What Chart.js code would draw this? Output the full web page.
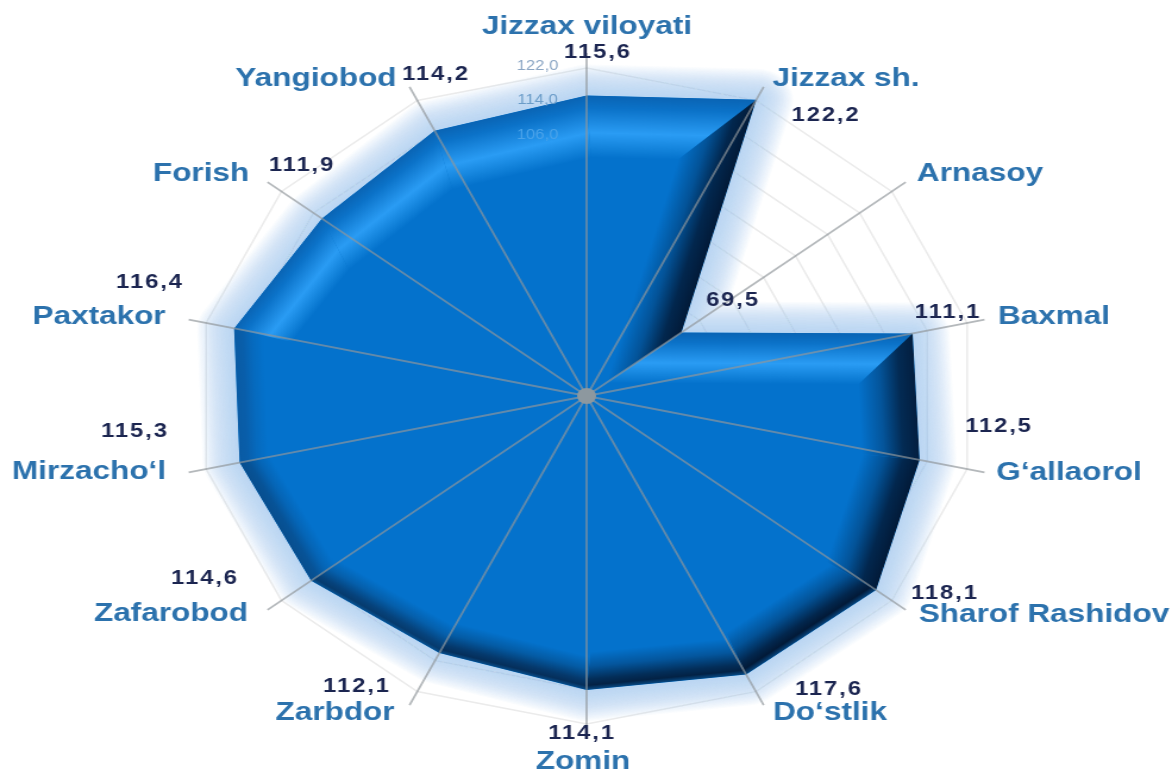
<!DOCTYPE html>
<html><head><meta charset="utf-8">
<style>
html,body{margin:0;padding:0;background:#fff;overflow:hidden}
#c{display:block;width:1172px !important;height:774px !important}
</style>
<script src="https://cdn.jsdelivr.net/npm/chart.js@4"></script>
</head><body>
<canvas id="c" width="985" height="774"></canvas>
<script>
const categories = ["Jizzax viloyati","Jizzax sh.","Arnasoy","Baxmal","G\u2018allaorol","Sharof Rashidov","Do\u2018stlik","Zomin","Zarbdor","Zafarobod","Mirzacho\u2018l","Paxtakor","Forish","Yangiobod"];
const values = [115.6,122.2,69.5,111.1,112.5,118.1,117.6,114.1,112.1,114.6,115.3,116.4,111.9,114.2];
const tickValues = [50,58,66,74,82,90,98,106,114,122];
const axisMin = 45.8, axisMax = 122;

// text placement (page px, label centres)
const SX = 1172/985;
const catPos = [[587,27],[846,79],[980,174],[1054,317],[1069,473],[1044,615],[830,713],[583,762],[335,713],[171,614],[89,472],[99,317],[201,174],[316,79]];
const valPos = [[598,52],[826,115],[733,300],[948,312],[999,426],[945,593],[829,689],[582,733],[357,686],[205,578],[135,431],[150,282],[302,165],[436,74]];
const SPOKE_R = 343;
const fmt = v => v.toFixed(1).replace('.',',');
const mix=(a,b,t)=>a.map((x,i)=>Math.round(x+(b[i]-x)*t));
const rgb=a=>`rgb(${a[0]},${a[1]},${a[2]})`;
const BASE=[4,114,204];

function polyPath(ctx,pts){ctx.beginPath();pts.forEach((p,i)=>i?ctx.lineTo(p.x,p.y):ctx.moveTo(p.x,p.y));ctx.closePath();}

const look = {
  id:'look',
  beforeDatasetsDraw(chart){
    const ctx=chart.ctx, pts=chart.getDatasetMeta(0).data;
    ctx.save();
    ctx.lineJoin='round';
    ctx.strokeStyle='rgba(168,196,238,0.055)';
    for(let w=62;w>=4;w-=2.5){ctx.lineWidth=w;polyPath(ctx,pts);ctx.stroke();}
    ctx.restore();
  },
  afterDatasetsDraw(chart){
    const ctx=chart.ctx, s=chart.scales.r, pts=chart.getDatasetMeta(0).data, n=pts.length;
    const cx=s.xCenter, cy=s.yCenter;
    // edge geometry
    const edges=pts.map((a,i)=>{
      const b=pts[(i+1)%n];
      const L=Math.hypot(b.x-a.x,b.y-a.y), ex=(b.x-a.x)/L, ey=(b.y-a.y)/L;
      const nx=ey, ny=-ex;
      const lit=ny<-0.3;
      let w=lit?30+32*(-ny):48;
      let depth=lit?w:36+12*nx;
      const dc=Math.abs((a.x-cx)*nx+(a.y-cy)*ny);
      w=Math.min(w,dc*0.8); depth=Math.min(depth,w);
      return {nx,ny,lit,w,depth};
    });
    const inner=pts.map((p,i)=>{
      const e0=edges[(i+n-1)%n], e1=edges[i];
      const det=e0.nx*e1.ny-e0.ny*e1.nx;
      const qx=(-e0.w*e1.ny+e1.w*e0.ny)/det, qy=(-e1.w*e0.nx+e0.w*e1.nx)/det;
      return {x:p.x+qx,y:p.y+qy};
    });
    ctx.save();
    polyPath(ctx,pts);ctx.clip();
    edges.forEach((e,i)=>{
      const a=pts[i], b=pts[(i+1)%n], qa=inner[i], qb=inner[(i+1)%n];
      const g=ctx.createLinearGradient(a.x,a.y,a.x-e.nx*e.depth,a.y-e.ny*e.depth);
      if(e.lit){
        g.addColorStop(0,'#0a64b4');
        g.addColorStop(0.2,'#0b72c8');
        g.addColorStop(0.6,'#2a9cf4');
        g.addColorStop(0.85,'#1282da');
        g.addColorStop(1,rgb(BASE));
      } else {
        const t=Math.max(0,Math.min(1,(e.nx+1)/2*0.95+e.ny*0.35));
        const edge=mix([10,92,165],[2,26,56],t);
        if(e.ny>0.5){
          g.addColorStop(0,rgb(mix(edge,[10,100,175],0.6)));
          g.addColorStop(0.12,rgb(edge));
        } else g.addColorStop(0,rgb(edge));
        g.addColorStop(0.28,rgb(mix(edge,BASE,0.15)));
        g.addColorStop(0.62,rgb(mix(edge,BASE,0.65)));
        g.addColorStop(1,rgb(BASE));
      }
      ctx.fillStyle=g;
      ctx.beginPath();ctx.moveTo(a.x,a.y);ctx.lineTo(b.x,b.y);ctx.lineTo(qb.x,qb.y);ctx.lineTo(qa.x,qa.y);ctx.closePath();ctx.fill();
    });
    ctx.restore();
    // spokes
    ctx.save();
    ctx.strokeStyle='rgba(145,150,155,0.68)';ctx.lineWidth=1.8;
    for(let i=0;i<n;i++){
      const p=s.getPointPosition(i,SPOKE_R);
      ctx.beginPath();ctx.moveTo(cx,cy);ctx.lineTo(p.x,p.y);ctx.stroke();
    }
    ctx.fillStyle='#8d989f';ctx.beginPath();ctx.arc(cx,cy,8,0,Math.PI*2);ctx.fill();
    ctx.restore();
    // tick labels
    ctx.save();
    ctx.textAlign='center';ctx.textBaseline='middle';ctx.font='14px "Liberation Sans"';
    const tickCol={122:'#8ba6c4',114:'#6b9cc8',106:'#4aa3ea'};
    tickValues.filter(v=>v>=106).forEach(v=>{
      const y=cy-s.getDistanceFromCenterForValue(v);
      ctx.fillStyle=tickCol[v];
      ctx.fillText(fmt(v),cx-49/SX,y-2);
    });
    // value labels
    ctx.font='bold 20px "Liberation Sans"';ctx.letterSpacing='1.6px';ctx.fillStyle='#1b2550';
    values.forEach((v,i)=>ctx.fillText(fmt(v),valPos[i][0]/SX,valPos[i][1]));
    // category labels
    ctx.font='bold 26.5px "Liberation Sans"';ctx.letterSpacing='0px';ctx.fillStyle='#2c72ad';
    categories.forEach((c,i)=>ctx.fillText(c,catPos[i][0]/SX,catPos[i][1]));
    ctx.restore();
  }
};

new Chart(document.getElementById('c'),{
  type:'radar',
  data:{labels:categories,datasets:[{data:values,backgroundColor:rgb(BASE),borderWidth:0,pointRadius:0,fill:true,tension:0}]},
  options:{
    responsive:false,animation:false,devicePixelRatio:1,
    layout:{padding:{top:68,bottom:50,left:1,right:0}},
    plugins:{legend:{display:false},tooltip:{enabled:false}},
    scales:{r:{
      min:axisMin,max:axisMax,
      afterBuildTicks(ax){ax.ticks=tickValues.map(v=>({value:v}));},
      ticks:{display:false},
      pointLabels:{display:false},
      angleLines:{display:false},
      grid:{color:'#ebebeb',lineWidth:1.6}
    }}
  },
  plugins:[look]
});
</script>
</body></html>
